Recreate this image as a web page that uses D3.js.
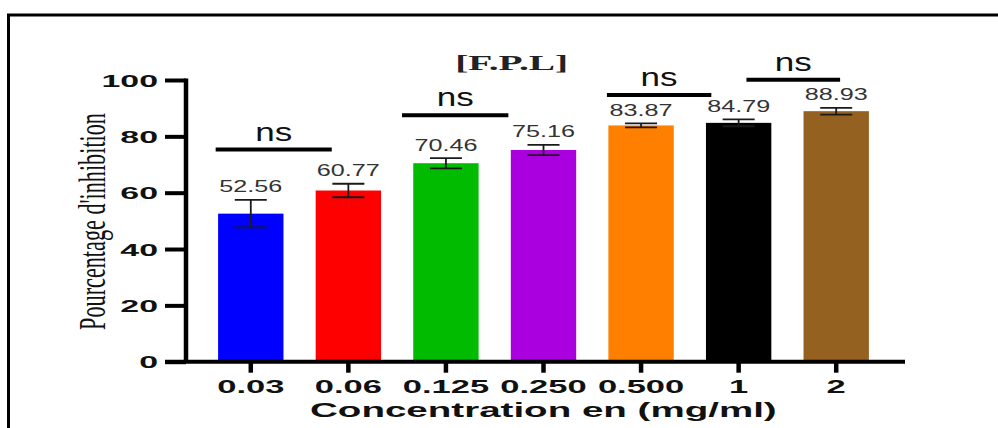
<!DOCTYPE html>
<html>
<head>
<meta charset="utf-8">
<script src="https://cdn.jsdelivr.net/npm/d3@7/dist/d3.min.js"></script>
<style>
  html, body { margin: 0; padding: 0; background: #fff; }
  svg { display: block; }
</style>
</head>
<body>
<svg id="chart" width="998" height="428"></svg>
<script>
// ---- data ----
const categories = ["0.03", "0.06", "0.125", "0.250", "0.500", "1", "2"];
const values = [52.56, 60.77, 70.46, 75.16, 83.87, 84.79, 88.93];
const errors = [4.9, 2.4, 1.8, 1.8, 0.7, 1.2, 1.2];
const barColors = ["#0000ff", "#ff0000", "#00bb00", "#aa00e0", "#ff8000", "#000000", "#946121"];
const yTicks = [0, 20, 40, 60, 80, 100];
const bracketFrom = [-0.36, 1.55, 3.65, 5.08];   // category index positions
const bracketTo = [0.83, 2.64, 4.72, 6.04];
const bracketLevel = [75.3, 87.5, 94.7, 100.1];  // in y data units
const bracketLabel = ["ns", "ns", "ns", "ns"];
const title = "[F.P.L]";
const xTitle = "Concentration en (mg/ml)";
const yTitle = "Pourcentage d'inhibition";

// ---- layout ----
const W = 998, H = 428;
const yAxisX = 186;
const plotTop = 80, plotBottom = 361.7;
const bandLeft = 202, bandRight = 885;
const xAxisEnd = 905;
const yTickLen = 21, xTickLen = 11;

const svg = d3.select("#chart");

const x = d3.scaleBand().domain(categories).range([bandLeft, bandRight])
  .paddingInner(0.33).paddingOuter(0.165);
const y = d3.scaleLinear().domain([0, 100]).range([plotBottom, plotTop]);
const step = x.step();
const idx = d3.scaleLinear().domain([0, 1])
  .range([x(categories[0]) + x.bandwidth() / 2, x(categories[0]) + x.bandwidth() / 2 + step]);

// frame
svg.append("path")
  .attr("d", `M${W},15 H8.5 V${H}`)
  .attr("fill", "none").attr("stroke", "#000").attr("stroke-width", 3);

const data = categories.map((c, i) => ({ c, v: values[i], e: errors[i], col: barColors[i] }));

// bars
svg.append("g").selectAll("rect").data(data).join("rect")
  .attr("x", d => x(d.c))
  .attr("width", x.bandwidth())
  .attr("y", d => y(d.v))
  .attr("height", d => y(0) - y(d.v))
  .attr("fill", d => d.col);

// error bars
const eb = svg.append("g").attr("stroke", "#1a1a1a").attr("stroke-width", 1.8).attr("fill", "none");
data.forEach(d => {
  const cx = x(d.c) + x.bandwidth() / 2;
  const capW = 16;
  eb.append("line").attr("x1", cx).attr("x2", cx).attr("y1", y(d.v + d.e)).attr("y2", y(d.v - d.e));
  eb.append("line").attr("x1", cx - capW).attr("x2", cx + capW).attr("y1", y(d.v + d.e)).attr("y2", y(d.v + d.e));
  eb.append("line").attr("x1", cx - capW).attr("x2", cx + capW).attr("y1", y(d.v - d.e)).attr("y2", y(d.v - d.e));
});

// value labels
svg.append("g").selectAll("text").data(data).join("text")
  .attr("x", d => x(d.c) + x.bandwidth() / 2)
  .attr("y", d => y(d.v + d.e) - 7.5)
  .attr("text-anchor", "middle")
  .attr("font-family", "Liberation Sans, Arial, sans-serif")
  .attr("font-size", 16.3)
  .attr("fill", "#333")
  .attr("textLength", 63)
  .attr("lengthAdjust", "spacingAndGlyphs")
  .text(d => d.v.toFixed(2));

// significance brackets
const br = svg.append("g");
bracketLabel.forEach((lab, i) => {
  const x1 = idx(bracketFrom[i]), x2 = idx(bracketTo[i]), yy = y(bracketLevel[i]);
  br.append("line").attr("x1", x1).attr("x2", x2).attr("y1", yy).attr("y2", yy)
    .attr("stroke", "#000").attr("stroke-width", 4);
  br.append("text")
    .attr("x", (x1 + x2) / 2).attr("y", yy - 9)
    .attr("text-anchor", "middle")
    .attr("font-family", "Liberation Sans, Arial, sans-serif")
    .attr("font-size", 25.7)
    .attr("fill", "#111")
    .attr("textLength", 37)
    .attr("lengthAdjust", "spacingAndGlyphs")
    .text(lab);
});

// y axis
const yAxis = svg.append("g").attr("transform", `translate(${yAxisX},0)`)
  .call(d3.axisLeft(y).tickValues(yTicks).tickSize(yTickLen).tickSizeOuter(0));
yAxis.select(".domain").attr("stroke", "#000").attr("stroke-width", 4.5)
  .attr("d", `M0,${plotTop - 1.5}V${plotBottom}`);
yAxis.selectAll(".tick line").attr("stroke", "#000").attr("stroke-width", 4);
yAxis.selectAll(".tick text")
  .attr("x", 0).attr("dy", null).attr("y", 0)
  .attr("transform", `translate(${-(yAxisX - 158)},6) scale(2.05,1)`)
  .attr("font-family", "Liberation Sans, Arial, sans-serif")
  .attr("font-weight", "bold")
  .attr("font-size", 16.5)
  .attr("fill", "#111")
  .attr("text-anchor", "end");

// x axis
const xAxis = svg.append("g").attr("transform", `translate(0,${plotBottom})`)
  .call(d3.axisBottom(x).tickSize(xTickLen).tickSizeOuter(0));
xAxis.select(".domain").attr("stroke", "#000").attr("stroke-width", 4)
  .attr("d", `M${yAxisX - yTickLen},0H${xAxisEnd}`);
xAxis.selectAll(".tick line").attr("stroke", "#000").attr("stroke-width", 4.5);
xAxis.selectAll(".tick text")
  .attr("y", 0).attr("dy", null)
  .attr("transform", "translate(0,31) scale(1.95,1)")
  .attr("font-family", "Liberation Sans, Arial, sans-serif")
  .attr("font-weight", "bold")
  .attr("font-size", 17.7)
  .attr("fill", "#111");

// x title
svg.append("text")
  .attr("transform", `translate(${(310 + 776.7) / 2},417) scale(1.88,1)`)
  .attr("text-anchor", "middle")
  .attr("font-family", "Liberation Sans, Arial, sans-serif")
  .attr("font-weight", "bold")
  .attr("font-size", 20.5)
  .attr("fill", "#111")
  .text(xTitle);

// y title (condensed serif, via scale along the text direction)
const yt = svg.append("text")
  .attr("text-anchor", "middle")
  .attr("font-family", "Liberation Serif, Times New Roman, serif")
  .attr("font-size", 37.5)
  .attr("fill", "#111")
  .text(yTitle);
const natural = yt.node().getComputedTextLength() || 366;
yt.attr("transform", `translate(105,221.5) rotate(-90) scale(${217 / natural},1)`);

// chart title
svg.append("text")
  .attr("x", 511.7).attr("y", 70)
  .attr("text-anchor", "middle")
  .attr("font-family", "Liberation Serif, Times New Roman, serif")
  .attr("font-weight", "bold")
  .attr("font-size", 20)
  .attr("fill", "#222")
  .attr("textLength", 113)
  .attr("lengthAdjust", "spacingAndGlyphs")
  .text(title);
</script>
</body>
</html>
